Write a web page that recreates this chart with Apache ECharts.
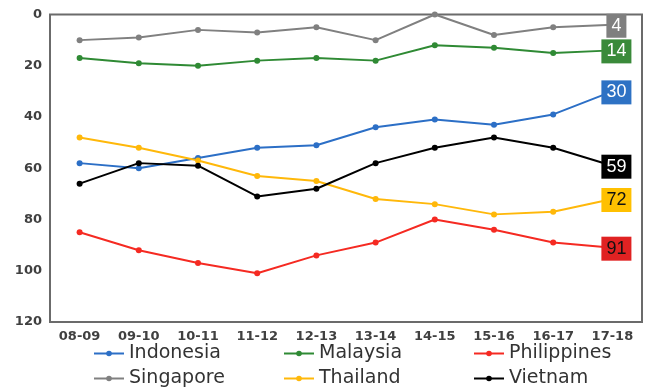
<!DOCTYPE html>
<html><head><meta charset="utf-8">
<script src="https://cdn.jsdelivr.net/npm/echarts@6/dist/echarts.min.js"></script>
<style>html,body{margin:0;padding:0;background:#fff}#c{width:645px;height:388px}</style>
</head><body><div id="c"></div>
<script>
var categories = ['08-09','09-10','10-11','11-12','12-13','13-14','14-15','15-16','16-17','17-18'];
var indonesia   = [58, 60, 56, 52, 51, 44, 41, 43, 39, 30];
var malaysia    = [17, 19, 20, 18, 17, 18, 12, 13, 15, 14];
var philippines = [85, 92, 97, 101, 94, 89, 80, 84, 89, 91];
var singapore   = [10, 9, 6, 7, 5, 10, 0, 8, 5, 4];
var thailand    = [48, 52, 57, 63, 65, 72, 74, 78, 77, 72];
var vietnam     = [66, 58, 59, 71, 68, 58, 52, 48, 52, 59];
var yTicks = [0, 20, 40, 60, 80, 100, 120];

var defs = [
  {name:'Indonesia',   data:indonesia,   color:'#2c6fc6', box:'#2e72c4', text:'#fff'},
  {name:'Malaysia',    data:malaysia,    color:'#2f8a34', box:'#3a8a3a', text:'#fff'},
  {name:'Philippines', data:philippines, color:'#f52a22', box:'#e02222', text:'#111'},
  {name:'Singapore',   data:singapore,   color:'#808080', box:'#7f7f7f', text:'#fff'},
  {name:'Thailand',    data:thailand,    color:'#ffb80a', box:'#ffc000', text:'#111'},
  {name:'Vietnam',     data:vietnam,     color:'#000000', box:'#000000', text:'#fff'}
];

var series = defs.map(function(d){
  var n = d.data.length;
  return {
    name: d.name, type:'line', data: d.data.map(function(v,i){
      if (i === n-1) return {value:v, label:{show:true}};
      return v;
    }),
    symbol:'circle', symbolSize:6, showSymbol:true,
    lineStyle:{width:2, color:d.color}, itemStyle:{color:d.color},
    label:{show:false, position:'inside', offset:[4,1], backgroundColor:d.box, color:d.text,
      fontFamily:'Liberation Sans', fontSize:18, padding:[3,5,3,5], formatter:'{c}'},
    z: 3
  };
});

function legend(left, names){
  return {orient:'vertical', left:left, top:344, height:60, padding:0, itemWidth:30, itemHeight:7, itemGap:6,
    data:names, textStyle:{fontFamily:'DejaVu Sans', fontSize:19, lineHeight:18, color:'#333'}};
}

var chart = echarts.init(document.getElementById('c'), null, {renderer:'canvas'});
chart.setOption({
  animation:false,
  backgroundColor:'#fff',
  grid:{left:50, right:3, top:14.5, bottom:66, show:true, borderColor:'#6b6b6b', borderWidth:2},
  xAxis:{type:'category', data:categories, boundaryGap:true,
    axisLine:{show:false}, axisTick:{show:false},
    axisLabel:{fontFamily:'DejaVu Sans', fontWeight:'bold', fontSize:13, color:'#404040', margin:8}},
  yAxis:{type:'value', inverse:true, min:yTicks[0], max:yTicks[yTicks.length-1], interval:20,
    axisLine:{show:false}, axisTick:{show:false}, splitLine:{show:false},
    axisLabel:{fontFamily:'DejaVu Sans', fontWeight:'bold', fontSize:13, color:'#404040', margin:8}},
  legend:[legend(93,['Indonesia','Singapore']), legend(283,['Malaysia','Thailand']), legend(473,['Philippines','Vietnam'])],
  series: series
});
</script></body></html>
